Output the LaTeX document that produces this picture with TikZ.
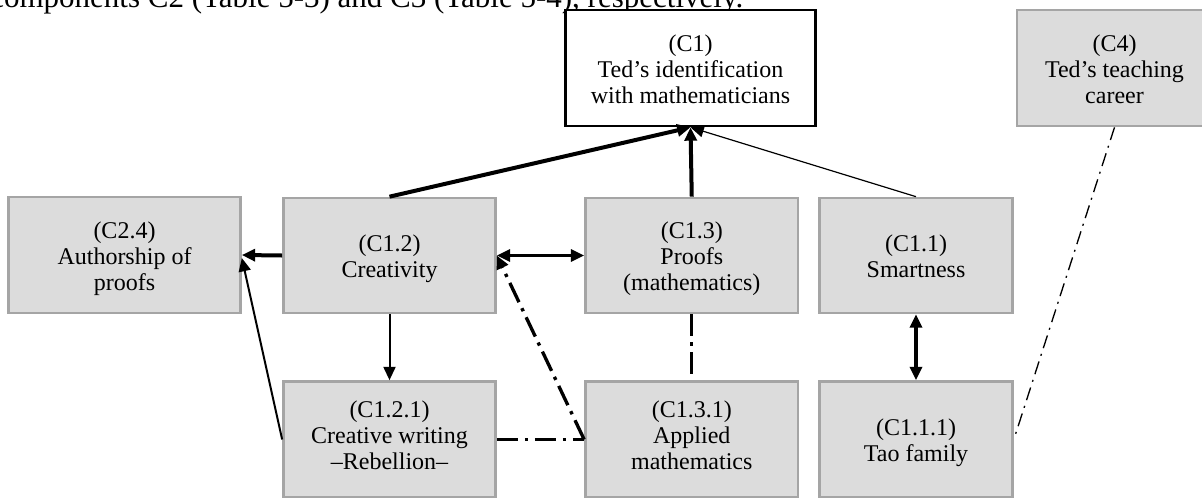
\documentclass[tikz,border=0pt]{standalone}
\usepackage{fontspec}
\setmainfont{Liberation Serif}
\usetikzlibrary{arrows.meta}
\definecolor{boxfill}{HTML}{DCDCDC}
\definecolor{boxline}{HTML}{A5A5A5}
\newcommand\topst{\rule{0pt}{18pt}}
\newcommand\botst[1][4.5pt]{\rule[-#1]{0pt}{#1}}
\begin{document}
\begin{tikzpicture}[x=0.75pt,y=-0.75pt,
  box/.style={draw=boxline,fill=boxfill,line width=2pt,inner sep=0pt,align=center,font=\fontsize{18}{19.5}\selectfont},
  mainbox/.style={box,draw=black,fill=white},
  tip/.style={-{Triangle[length=10pt,width=9pt]}},
  dtip/.style={{Triangle[length=10pt,width=9pt]}-{Triangle[length=10pt,width=9pt]}},
  thickln/.style={line width=3pt},
  midln/.style={line width=2.25pt},
  normln/.style={line width=1.5pt},
  thinln/.style={line width=0.9pt},
  dashdotthick/.style={line width=2.5pt,dash pattern=on 16pt off 5pt on 2.5pt off 5pt},
  dashdotthin/.style={line width=1pt,dash pattern=on 10pt off 4.5pt on 1.5pt off 4.5pt}
]
\useasboundingbox (0,0) rectangle (1202,497);
\clip (0,0) rectangle (1202,497);
\node[anchor=base west,font=\fontsize{23.25}{26}\selectfont,inner sep=0pt] (intro) at (-10,7.3) {components C2 (Table 5-3) and C3 (Table 5-4), respectively.};

\node[mainbox,minimum width=187.5pt,minimum height=87pt] (c1) at (690.5,68) {\topst(C1)\\Ted’s identification\\with mathematicians\botst};
\node[box,minimum width=146.25pt,minimum height=87pt] (c4) at (1114.5,68) {\topst(C4)\\Ted’s teaching\\career\botst};
\node[box,minimum width=174pt,minimum height=87pt] (c24) at (124.5,255) {\topst(C2.4)\\Authorship of\\proofs\botst};
\node[box,minimum width=159pt,minimum height=86.25pt] (c12) at (389.5,255.5) {\topst(C1.2)\\Creativity\botst};
\node[box,minimum width=159.4pt,minimum height=86.25pt] (c13) at (691.75,255.5) {\topst(C1.3)\\Proofs\\(mathematics)\botst};
\node[box,minimum width=144.75pt,minimum height=86.25pt] (c11) at (916,255.5) {\topst(C1.1)\\Smartness\botst};
\node[box,minimum width=159pt,minimum height=87pt] (c121) at (389.5,439.5) {\topst(C1.2.1)\\Creative writing\\–Rebellion–\botst[12pt]};
\node[box,minimum width=159.4pt,minimum height=87pt] (c131) at (691.75,439.5) {\topst(C1.3.1)\\Applied\\mathematics\botst[12pt]};
\node[box,minimum width=144.75pt,minimum height=87pt] (c111) at (916,439.5) {\topst(C1.1.1)\\Tao family\botst};

\draw[thickln,tip] (c12.north) -- (c1.south);
\draw[thickln,tip] (c13.north) -- (c1.south);
\draw[thinln,tip] (c11.north) -- (c1.south);
\draw[thickln,tip] (c12.west) -- (c24.east);
\draw[normln,tip] (c121.west) -- ([yshift=-2.25pt]c24.east);
\draw[normln,tip] (c12.south) -- (c121.north);
\draw[midln,dtip] (c12.east) -- (c13.west);
\draw[dashdotthick,tip] (c131.west) -- (c12.east);
\draw[dashdotthick] (c121.east) -- (c131.west);
\draw[dashdotthick] (c13.south) -- (c131.north);
\draw[thickln,dtip] (c11.south) -- (c111.north);
\draw[dashdotthin] (c4.south) -- (c111.east);
\end{tikzpicture}
\end{document}
